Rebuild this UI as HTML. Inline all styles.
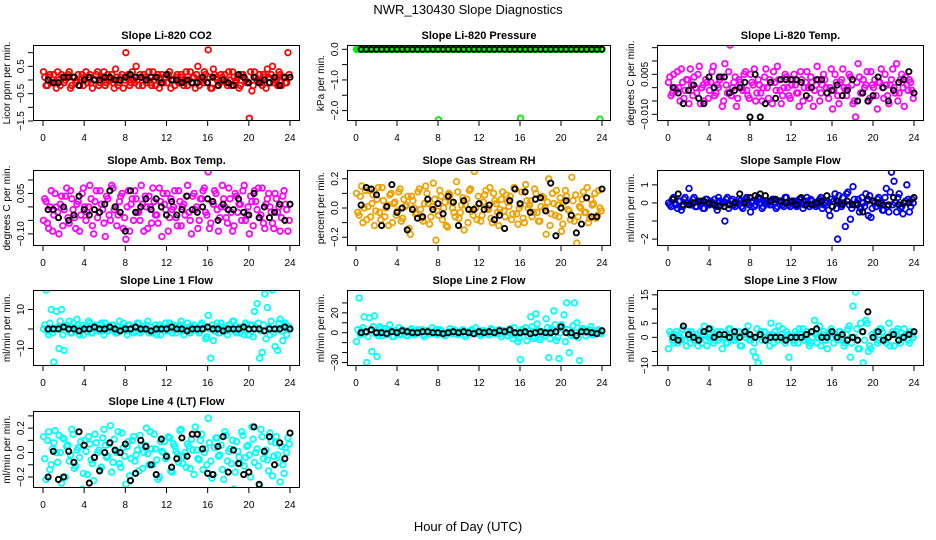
<!DOCTYPE html>
<html><head><meta charset="utf-8"><style>
html,body{margin:0;padding:0;background:#fff;}
svg{display:block;font-family:"Liberation Sans",sans-serif;}
</style></head><body>
<svg id="c" width="936" height="540" xmlns="http://www.w3.org/2000/svg">
<text x="468" y="14" text-anchor="middle" font-size="13">NWR_130430  Slope Diagnostics</text>
<text x="468" y="531" text-anchor="middle" font-size="13">Hour of Day (UTC)</text>
</svg>
<script>
const hourTicks=[0,4,8,12,16,20,24];
const co2Color=[0.3,-0.2,0.1,-0.1,0.2,-0.3,0.0,0.2,-0.1,0.1,0.3,-0.2,0.1,0.0,-0.2,0.2,0.1,-0.1,0.2,-0.3,0.0,0.3,-0.1,0.1,-0.2,0.2,0.0,-0.1,0.4,-0.2,0.1,-0.3,1.0,0.2,-0.1,0.0,0.5,-0.2,0.1,0.2,-0.1,0.3,-0.2,0.0,0.1,-0.3,0.2,0.1,-0.1,0.3,0.0,-0.2,0.2,-0.1,0.1,0.0,-0.2,0.3,0.1,-0.3,0.5,0.0,-0.1,0.2,1.1,-0.3,0.4,0.1,-0.2,0.2,0.0,-0.1,0.3,-0.2,0.1,0.0,-0.3,0.2,0.1,-0.1,-1.4,-0.4,0.3,0.0,0.2,-0.2,0.1,0.4,-0.1,0.5,0.0,-0.2,0.2,0.1,-0.1,1.0];
const co2ColorB=[0.1,-0.2,0.2,0.0,-0.1,0.3,-0.2,0.1,0.0,0.2,-0.3,0.1,-0.1,0.2,0.0,-0.2,0.3,0.1,-0.1,0.0,0.2,-0.2,0.1,0.3,-0.1,0.0,0.2,-0.3,0.1,-0.1,0.2,0.0,0.1,-0.2,0.3,-0.1,0.0,0.2,-0.2,0.1,0.0,-0.1,0.3,-0.2,0.2,0.0,-0.1,0.1,0.2,-0.3,0.0,0.1,-0.1,0.2,-0.2,0.3,0.0,-0.1,0.1,0.2,-0.2,0.0,0.3,-0.1,0.1,-0.3,0.2,0.0,-0.1,0.1,0.2,-0.2,0.0,0.3,-0.1,0.1,-0.2,0.2,0.0,-0.1,0.3,-0.2,0.1,0.0,-0.1,0.2,-0.3,0.1,0.2,-0.1,0.0,0.3,-0.2,0.1,-0.1,0.2];
const co2Black=[0.0,-0.1,-0.1,0.1,0.1,0.1,-0.2,0.0,0.1,0.0,0.0,0.1,0.1,0.0,0.0,0.1,0.2,0.1,0.1,0.0,0.1,0.1,-0.1,0.2,0.0,0.0,-0.1,0.0,-0.1,-0.1,0.1,-0.1,0.1,-0.2,0.0,-0.1,-0.2,0.2,0.1,-0.1,0.1,-0.1,0.0,-0.1,0.1,-0.2,0.1,0.1];
const presColor=[0,0,0,0,0,0,0,0,0,0,0,0,0,0,0,0,0,0,0,0,0,0,0,0,0,0,0,0,0,0,0,0,-2.3,0,0,0,0,0,0,0,0,0,0,0,0,0,0,0,0,0,0,0,0,0,0,0,0,0,0,0,0,0,0,0,-2.25,0,0,0,0,0,0,0,0,0,0,0,0,0,0,0,0,0,0,0,0,0,0,0,0,0,0,0,0,0,0,-2.28];
const presColorB=[0,0,0,0,0,0,0,0,0,0,0,0,0,0,0,0,0,0,0,0,0,0,0,0,0,0,0,0,0,0,0,0,0,0,0,0,0,0,0,0,0,0,0,0,0,0,0,0,0,0,0,0,0,0,0,0,0,0,0,0,0,0,0,0,0,0,0,0,0,0,0,0,0,0,0,0,0,0,0,0,0,0,0,0,0,0,0,0,0,0,0,0,0,0,0,0];
const presBlack=[0,0,0,0,0,0,0,0,0,0,0,0,0,0,0,0,0,0,0,0,0,0,0,0,0,0,0,0,0,0,0,0,0,0,0,0,0,0,0,0,0,0,0,0,0,0,0,0];
const tempColor=[0.002,-0.003,0.005,-0.001,0,0.007,-0.004,0.003,-0.006,0.001,0.004,-0.002,0.008,0,-0.005,0.002,-0.001,0.006,-0.003,0.001,0.003,-0.007,0.009,-0.002,0.016,0,0.004,-0.004,0.002,-0.001,0.006,-0.003,0.005,0.001,-0.005,0.003,-0.002,0,0.007,-0.004,0.002,0.006,-0.001,0.003,-0.006,0,0.004,-0.003,0.001,0.005,-0.002,-0.007,0.003,0,0.006,-0.004,0.002,-0.001,0.008,-0.005,0.001,0.003,-0.002,0,-0.008,0.005,-0.003,0.002,0.007,-0.001,0,0.004,-0.006,-0.011,0.009,-0.002,0.003,0.001,-0.005,0.006,0,-0.003,0.002,0.007,-0.004,0.001,-0.006,0.003,0,0.009,-0.002,0.005,-0.007,0.001,0.003,-0.001];
const tempColorB=[0.004,-0.002,0,0.006,-0.005,0.002,-0.001,0.003,0.007,-0.003,0,0.005,-0.006,0.001,0.003,-0.004,0.002,0.008,-0.002,0,0.004,-0.005,0.001,0.006,-0.003,0.002,-0.007,0.003,0,0.005,-0.001,-0.004,0.002,0.007,-0.002,0.001,-0.005,0.004,0,0.003,-0.006,0.002,0.008,-0.001,-0.003,0.005,0,-0.004,0.003,0.001,-0.002,0.006,-0.005,0.002,0,0.004,-0.007,0.001,0.003,-0.002,0.005,0,-0.004,0.007,-0.001,0.002,-0.006,0.003,0,-0.003,0.005,0.001,-0.005,0.002,0.004,-0.002,0,0.006,-0.004,0.001,0.003,-0.008,0.002,0,0.005,-0.003,0.001,0.007,-0.002,-0.005,0.003,0,0.004,-0.001,0.002,-0.004];
const tempBlack=[0,-0.002,-0.006,-0.001,0.001,-0.004,-0.006,0.004,0,0.004,0.004,-0.002,-0.001,0,0.002,-0.011,0.005,-0.011,-0.006,0.002,-0.004,0.003,0.003,0.003,0.003,0.002,-0.003,0,0.003,0.003,-0.002,-0.001,0.001,-0.003,-0.001,0.003,-0.005,-0.002,-0.005,-0.003,0.004,0,-0.005,-0.001,0.002,0.003,0.006,-0.002];
const ambColor=[-0.05,0.02,-0.08,0.06,-0.03,0,-0.1,0.04,-0.01,0.07,-0.06,0.03,-0.04,0.01,-0.09,0.05,0,-0.02,0.08,-0.07,0.02,-0.04,0.06,-0.01,-0.11,0.03,-0.05,0.07,0,-0.03,0.04,-0.08,-0.12,0.06,0.01,-0.05,0.03,-0.02,0.08,-0.09,0,0.04,-0.06,0.02,-0.03,0.07,-0.11,0.01,0.05,-0.04,-0.01,0.06,-0.07,0.02,0,-0.03,0.08,-0.05,0.04,-0.01,-0.08,0.03,0.06,-0.02,0.13,-0.06,0.01,0.05,-0.09,0,0.03,-0.04,0.07,-0.02,-0.07,0.04,0.01,-0.05,0.08,-0.03,-0.1,0.02,0.06,-0.01,-0.04,0.07,-0.08,0.03,0,-0.06,0.05,-0.02,-0.09,0.04,0.01,-0.09];
const ambColorB=[0.03,-0.06,0,-0.09,0.05,-0.02,0.01,-0.07,0.04,-0.04,0.06,-0.01,-0.08,0.02,-0.03,0.07,-0.05,0,0.03,-0.1,0.06,-0.02,0.01,-0.06,0.04,-0.03,0.08,-0.01,-0.07,0.02,0.05,-0.04,0,-0.09,0.03,0.06,-0.02,-0.05,0.01,0.04,-0.08,0,0.07,-0.03,-0.06,0.02,0.05,-0.01,-0.09,0.03,0,-0.04,0.06,-0.07,0.01,0.04,-0.02,-0.1,0.05,0,-0.05,0.03,0.07,-0.03,-0.08,0.02,0.06,-0.01,-0.04,0.08,0,-0.06,0.03,-0.09,0.05,-0.02,0.01,0.06,-0.05,0,0.04,-0.07,0.02,0.07,-0.03,-0.06,0.01,0.05,-0.02,-0.08,0.03,0,-0.04,0.06,-0.01,-0.05];
const ambBlack=[-0.01,-0.01,-0.04,0,-0.05,-0.03,0.04,-0.01,-0.03,-0.01,-0.02,0.01,0.06,0,-0.02,-0.09,0.06,-0.02,0,0.03,-0.01,0.03,0,-0.03,0.02,-0.03,-0.01,0.04,-0.01,-0.02,0,0.03,0.02,-0.05,0.01,-0.01,-0.01,0.03,-0.02,-0.03,0.05,-0.04,0,-0.04,-0.02,0.01,-0.05,0.01];
const rhColor=[0.1,-0.05,0.15,0,-0.08,0.12,0.03,-0.12,0.06,-0.03,0.14,-0.06,0.02,0.09,-0.1,0.04,-0.02,0.13,-0.07,0.01,0.08,-0.18,0.05,-0.04,0.11,-0.01,-0.09,0.15,0.03,-0.06,0.17,-0.22,-0.05,0.08,0,-0.12,0.1,0.04,-0.03,0.18,-0.07,0.02,-0.15,0.06,0.12,-0.02,0.25,-0.08,0.03,-0.05,0.09,0,0.14,-0.1,0.05,-0.03,-0.01,0.11,-0.06,0.04,0.08,-0.04,0.13,-0.11,0.02,-0.07,0.16,0,0.05,-0.03,0.1,-0.09,0.01,0.07,-0.18,0.2,-0.04,0.03,0.12,-0.06,-0.16,0.04,0.08,-0.02,0.21,-0.09,-0.24,0.01,0.06,-0.03,0.14,-0.07,0.02,0.1,-0.05,0];
const rhColorB=[-0.03,0.08,-0.1,0.12,0.01,-0.06,0.09,-0.02,0.14,-0.08,0.05,0,-0.12,0.1,0.03,-0.05,0.11,-0.09,0.06,0.02,-0.14,0.08,0,-0.04,0.13,-0.07,0.03,0.1,-0.11,0.01,0.06,-0.02,0.12,-0.08,0.04,-0.13,0.09,0,-0.06,0.11,-0.03,0.07,0.02,-0.1,0.13,-0.05,0,0.08,-0.09,0.04,0.12,-0.01,-0.07,0.1,0.03,-0.12,0.06,-0.02,0.09,0.01,-0.08,0.14,-0.04,0,0.11,-0.1,0.05,0.02,-0.06,0.13,-0.03,-0.09,0.08,0,0.04,-0.12,0.1,-0.05,0.02,0.07,-0.11,0.12,-0.01,-0.08,0.05,0.09,-0.06,0,0.11,-0.03,-0.1,0.06,0.03,-0.07,0.12,-0.02];
const rhBlack=[0.02,0.14,0.13,0.09,-0.12,0.01,0.16,-0.03,0,-0.15,-0.01,-0.07,-0.06,0.06,-0.01,0.03,-0.04,0.08,0.04,-0.12,0.05,-0.01,-0.01,0.03,-0.01,0.02,-0.08,-0.05,-0.14,0.05,0.13,0.03,0.11,-0.03,0.06,0.07,-0.02,0.17,-0.19,0,0.05,-0.05,-0.17,-0.11,0.07,-0.06,-0.06,0.13];
const sampColor=[0,-0.2,0.3,-0.1,0.1,-0.4,0.2,0,0.8,-0.1,0.3,-0.2,0,0.1,-0.3,0.2,-0.1,0,0.2,-0.4,0.1,0,-1,0.3,-0.1,0.2,-0.2,0,0.1,-0.3,0.2,0,-0.5,0.1,-0.1,0.3,0,-0.2,0.1,0,-0.1,0.2,-0.3,0.1,0,-0.2,0.3,-0.1,0,0.1,-0.2,0.2,0,-0.1,0.3,-0.2,0.1,0,-0.1,0.2,-0.3,0,0.1,-0.7,-0.2,0.5,-2,0,0.3,-1.3,0.6,-0.9,0.9,-0.1,0.2,-0.3,0,0.5,-0.7,-0.8,0.1,-0.2,0.3,0,-0.4,0.8,-0.5,1.7,1.2,-0.5,0.5,-0.2,0,1,-0.5,0.2];
const sampColorB=[-0.1,0.2,0,-0.3,0.1,-0.2,0.3,0,-0.1,0.2,-0.2,0.1,0,-0.3,0.2,-0.1,0.1,0,-0.2,0.3,-0.1,0,0.2,-0.3,0.1,-0.1,0,0.2,-0.2,0.1,0.3,-0.1,0,-0.2,0.1,0.2,-0.3,0,0.1,-0.1,0.2,0,-0.2,0.1,-0.1,0.3,0,-0.2,0.1,0,-0.1,0.2,-0.3,0.1,0,0.2,-0.1,-0.2,0.1,0.3,-0.1,0,-0.4,0.2,0.1,-0.3,0.4,-0.2,0,0.5,-0.1,-0.3,0.2,0,-0.5,0.3,-0.2,0.1,0.4,-0.3,0,0.2,-0.1,-0.4,0.3,-0.2,0.6,-0.1,0,0.3,-0.3,-0.6,0.1,0.2,-0.2,0];
const sampBlack=[0.2,0.5,-0.1,-0.1,0,0.1,0.1,0,-0.1,-0.2,-0.2,-0.1,0,0.5,0,0.3,0.4,0.5,0.4,0.1,0.2,0.1,0,0.1,-0.1,0.3,-0.1,-0.1,0,0.1,0.4,-0.2,0.1,-0.1,0.1,-0.1,-0.1,-0.5,0.2,0.1,0,-0.1,-0.1,0.3,-0.1,0,0,0.3];
const l1Color=[0,20,-3,10,-17,9,-10,10,-11,2,4,-2,1,5,-3,2,0,-1,3,-2,1,0,2,-1,3,-1,0,2,-2,1,0,3,-1,2,0,-2,1,3,-1,0,2,-2,1,0,-3,2,1,-1,0,3,-2,1,0,2,-1,0,3,-2,1,0,-1,2,0,-5,7,-15,-6,1,-2,3,0,-1,2,0,4,-2,1,0,-3,2,-3,2,9,13,-15,-12,18,11,-3,20,-9,-11,5,-6,3,0];
const l1ColorB=[2,-1,3,-2,0,1,4,-3,1,0,-2,3,-1,2,0,-3,1,4,-2,0,2,-1,3,-3,1,0,2,-1,-2,4,0,1,-3,2,0,-1,3,-2,1,0,4,-1,-2,2,0,-3,1,3,-1,0,2,-2,1,4,-3,0,1,-1,2,0,-2,3,1,-4,0,2,-1,3,-2,1,0,-3,2,4,-1,0,-2,1,3,-3,2,-4,0,3,-1,2,-5,1,4,-2,0,3,-1,2,-3,1];
const l1Black=[0,0,0,1,0,0,-1,0,0,1,0,0,1,0,-1,0,0,1,0,0,-1,0,0,0,1,0,0,-1,0,0,0,1,0,0,-1,0,0,0,1,0,0,0,-1,0,0,0,1,0];
const l2Color=[-9,35,2,16,-30,15,-19,17,-24,6,-3,4,0,8,-4,2,1,-2,3,0,-3,2,1,-1,3,0,-2,1,2,-1,0,3,-1,2,0,-2,1,0,3,-1,0,2,-2,1,0,3,-1,0,2,-1,1,0,-2,3,1,0,-1,2,0,-3,4,-6,0,-9,-27,3,5,-3,16,-6,19,2,-5,0,14,-25,4,22,-8,-26,8,18,30,-20,-3,30,10,-28,4,2,0,3,-2,1,2,0];
const l2ColorB=[3,-2,5,0,-4,2,6,-1,-3,4,0,-2,3,1,-4,2,5,-1,0,-3,2,4,-2,1,0,3,-4,2,-1,5,0,-2,3,1,-3,0,4,-1,2,-2,0,3,-4,1,2,-1,5,0,-3,2,1,-2,4,0,-1,3,-4,2,0,1,-2,5,-1,-6,3,0,-8,2,6,-4,9,-7,1,-3,5,-6,2,8,-5,0,4,-9,3,-2,7,0,-5,2,4,-3,1,6,-2,0,3,-1];
const l2Black=[0,1,3,0,0,-1,1,0,2,1,0,0,1,1,0,0,-1,0,1,0,1,0,-1,1,0,1,0,2,1,3,0,0,1,-1,0,1,0,0,1,6,0,0,-3,1,1,0,-1,2];
const l3Color=[-4,1,-2,2,0,-1,1,-3,0,2,-1,1,0,-2,4,-3,1,0,-1,2,0,-4,1,-2,3,0,-1,2,-3,1,0,4,-1,-5,-7,-9,2,0,-1,1,5,-2,0,4,1,-1,2,-7,0,-2,1,3,0,-1,2,-3,0,6,-2,4,1,-1,-4,2,0,1,-1,2,0,-2,3,-7,11,16,-4,5,-9,6,-5,-4,-11,2,-1,3,0,-2,5,1,-3,2,-1,0,3,1,-2,1];
const l3ColorB=[2,-1,1,-2,0,3,-1,2,-2,1,0,-3,2,1,-1,0,3,-2,1,-1,2,0,-2,3,1,-1,0,2,-3,1,2,-1,0,-2,3,1,-1,2,0,-3,1,2,-1,0,3,-2,1,0,-1,2,-2,1,3,0,-1,-2,2,1,0,-3,2,-1,1,3,-2,0,2,-1,-3,1,4,-2,0,3,-4,2,-1,5,-3,1,0,-2,3,2,-1,0,-3,2,1,3,-2,0,1,-1,2,0];
const l3Black=[0,-1,4,1,0,-1,2,3,0,1,1,0,2,0,2,1,0,1,-1,0,0,0,-1,0,0,0,1,2,3,0,0,2,0,1,-1,0,-1,2,9,0,2,-1,0,1,-1,0,1,2];
const l4Color=[0.13,-0.22,0.17,-0.1,0.08,0,0.14,-0.25,0.11,0.05,-0.07,0.19,-0.13,0.02,-0.04,-0.3,0.1,-0.18,0.07,-0.09,0.15,0,-0.14,0.12,0.06,-0.03,0.22,-0.08,0.01,0.17,-0.12,0.04,-0.26,0.09,-0.05,0.13,-0.02,-0.15,0.06,0,0.2,-0.1,0.03,0.15,-0.06,-0.2,0.01,0.09,-0.04,0.12,-0.16,0.05,-0.01,0.18,-0.09,0,0.07,-0.13,0.02,0.21,-0.05,0.1,-0.14,0.03,0.28,-0.07,-0.18,0.12,-0.03,0.06,-0.22,0.14,0.01,-0.09,-0.3,0.09,-0.04,0.17,-0.11,0.05,-0.02,0.21,-0.08,0.03,-0.27,0.13,0,-0.06,0.16,-0.19,0.08,-0.02,-0.24,-0.1,0.04,0.12];
const l4ColorB=[-0.05,0.1,-0.14,0.03,0.18,-0.08,0,0.12,-0.2,0.06,-0.02,0.15,-0.11,0.04,0.09,-0.17,0.01,0.13,-0.06,-0.23,0.08,0.02,-0.12,0.19,-0.04,0.07,-0.16,0.11,0,-0.09,0.16,-0.03,0.05,-0.19,0.1,-0.07,0.02,0.14,-0.13,0.06,-0.01,0.17,-0.1,0.03,-0.22,0.09,0,-0.05,0.13,-0.15,0.07,0.01,-0.08,0.19,-0.03,-0.12,0.05,0.11,-0.18,0.02,-0.06,0.15,0,-0.1,0.08,-0.21,0.04,0.12,-0.02,-0.14,0.17,-0.07,0.03,0.1,-0.16,0.01,-0.09,0.14,-0.04,0.06,-0.2,0.11,0,-0.11,0.19,-0.05,0.02,-0.15,0.09,-0.03,0.13,-0.08,0.05,-0.17,0,0.07];
const l4Black=[-0.2,0.01,-0.22,-0.2,0.01,-0.08,0.17,0.06,-0.25,-0.04,-0.15,0,0.08,0.02,0,0.07,-0.23,-0.17,0.1,0.05,-0.1,-0.18,0.11,-0.03,-0.12,-0.05,0.12,-0.03,0.15,0.15,0.03,-0.17,-0.18,0.05,0.13,-0.16,0.02,-0.09,-0.18,-0.16,0.21,-0.26,0.01,0.13,-0.1,0.08,-0.05,0.16];

const cols=[{l:33,r:300,x0:43,x1:290},{l:347,r:611,x0:356,x1:602},{l:657,r:924,x0:668,x1:914}];
const rows=[{t:45,b:121},{t:170,b:246},{t:290,b:366},{t:411,b:488}];
const panels=[
 {name:'co2',title:'Slope Li-820 CO2',yl:'Licor ppm per min.',c:0,r:0,ymin:-1.5,ymax:1.28,ticks:[-1.5,-1,-0.5,0,0.5,1],labels:{'-1.5':'\u22121.5','-0.5':'\u22120.5','0.5':'0.5'},col:'#ff0000',data:co2Color,dataB:co2ColorB,black:co2Black},
 {name:'pressure',title:'Slope Li-820 Pressure',yl:'kPa per min.',c:1,r:0,ymin:-2.34,ymax:0.14,ticks:[-2,-1.5,-1,-0.5,0],labels:{'-2':'\u22122.0','-1':'\u22121.0','0':'0.0'},col:'#00ee00',data:presColor,dataB:presColorB,black:presBlack},
 {name:'temp',title:'Slope Li-820 Temp.',yl:'degrees C per min.',c:2,r:0,ymin:-0.0125,ymax:0.016,ticks:[-0.01,-0.005,0,0.005,0.01,0.015],labels:{'-0.01':'\u22120.010','0.005':'0.005'},col:'#ff00ff',data:tempColor,dataB:tempColorB,black:tempBlack},
 {name:'amb-temp',title:'Slope Amb. Box Temp.',yl:'degrees C per min.',c:0,r:1,ymin:-0.145,ymax:0.137,ticks:[-0.1,-0.05,0,0.05,0.1],labels:{'-0.1':'\u22120.10','0.05':'0.05'},col:'#ff00ff',data:ambColor,dataB:ambColorB,black:ambBlack},
 {name:'gas-rh',title:'Slope Gas Stream RH',yl:'percent per min.',c:1,r:1,ymin:-0.26,ymax:0.26,ticks:[-0.2,-0.1,0,0.1,0.2],labels:{'-0.2':'\u22120.2','0':'0.0','0.2':'0.2'},col:'#f0a000',data:rhColor,dataB:rhColorB,black:rhBlack},
 {name:'sample-flow',title:'Slope Sample Flow',yl:'ml/min per min.',c:2,r:1,ymin:-2.38,ymax:1.82,ticks:[-2,-1,0,1],labels:{'-2':'\u22122','0':'0','1':'1'},col:'#0000ee',data:sampColor,dataB:sampColorB,black:sampBlack},
 {name:'line1-flow',title:'Slope Line 1 Flow',yl:'ml/min per min.',c:0,r:2,ymin:-19,ymax:20,ticks:[-10,0,10],labels:{'-10':'\u221210','10':'10'},col:'#00ffff',data:l1Color,dataB:l1ColorB,black:l1Black},
 {name:'line2-flow',title:'Slope Line 2 Flow',yl:'ml/min per min.',c:1,r:2,ymin:-33.5,ymax:43,ticks:[-30,-20,-10,0,10,20,30],labels:{'-30':'\u221230','0':'0','20':'20'},col:'#00ffff',data:l2Color,dataB:l2ColorB,black:l2Black},
 {name:'line3-flow',title:'Slope Line 3 Flow',yl:'ml/min per min.',c:2,r:2,ymin:-10.1,ymax:16.7,ticks:[-10,-5,0,5,10,15],labels:{'-10':'\u221210','0':'0','5':'5','15':'15'},col:'#00ffff',data:l3Color,dataB:l3ColorB,black:l3Black},
 {name:'line4-flow',title:'Slope Line 4 (LT) Flow',yl:'ml/min per min.',c:0,r:3,ymin:-0.29,ymax:0.34,ticks:[-0.3,-0.2,-0.1,0,0.1,0.2,0.3],labels:{'-0.2':'\u22120.2','0':'0.0','0.2':'0.2'},col:'#00ffff',data:l4Color,dataB:l4ColorB,black:l4Black}
];
const NS='http://www.w3.org/2000/svg';
const svg=document.getElementById('c');
function mk(tag,attrs,parent){const e=document.createElementNS(NS,tag);for(const k in attrs)e.setAttribute(k,attrs[k]);(parent||svg).appendChild(e);return e;}
panels.forEach(p=>{
 const C=cols[p.c],R=rows[p.r];
 const g=mk('g',{});
 
 
 const xs=h=>C.x0+(C.x1-C.x0)*h/24;
 const ys=v=>R.b-(v-p.ymin)/(p.ymax-p.ymin)*(R.b-R.t);
 const clip='clip-'+p.name;
 const cp=mk('clipPath',{id:clip},g);
 mk('rect',{x:C.l,y:R.t,width:C.r-C.l,height:R.b-R.t},cp);
 const pts=mk('g',{'clip-path':'url(#'+clip+')'},g);
 
 
 [[p.data,0.05],[p.dataB,0.175]].forEach(([arr,off])=>{
  const n=arr.length;
  arr.forEach((v,i)=>{
   const c=mk('circle',{cx:xs(i*24/n+off),cy:ys(v),r:2.8,fill:'none',stroke:p.col,'stroke-width':1.8},pts);
   
   
  });
 });
 const m=p.black.length;
 p.black.forEach((v,i)=>{
  const c=mk('circle',{cx:xs(i*24/m+0.5),cy:ys(v),r:2.6,fill:'none',stroke:'#000','stroke-width':1.9},pts);
  
  
 });
 const box=mk('rect',{x:C.l+0.5,y:R.t+0.5,width:C.r-C.l-1,height:R.b-R.t-1,fill:'none',stroke:'#000','stroke-width':1},g);
 
 
 const t=mk('text',{x:(C.l+C.r)/2,y:R.t-6,'text-anchor':'middle','font-size':11,'font-weight':'bold'},g);
 t.textContent=p.title;
 
 
 hourTicks.forEach(h=>{
  const x=xs(h);
  mk('line',{x1:x,x2:x,y1:R.b,y2:R.b+5,stroke:'#000'},g);
  const tl=mk('text',{x:x,y:R.b+20,'text-anchor':'middle','font-size':10},g);
  tl.textContent=h;
  
  
 });
 p.ticks.forEach(v=>{
  const y=ys(v);
  if(y<R.t-1||y>R.b+1)return;
  mk('line',{x1:C.l-5,x2:C.l,y1:y,y2:y,stroke:'#000'},g);
  const lab=p.labels[String(v)];
  if(lab!==undefined){
   const tl=mk('text',{x:C.l-9,y:y,'text-anchor':'middle','font-size':10,transform:'rotate(-90 '+(C.l-9)+' '+y+')'},g);
   tl.textContent=lab;
   
   
  }
 });
 const yc=(R.t+R.b)/2, yx=C.l-23;
 const yt=mk('text',{x:yx,y:yc,'text-anchor':'middle','font-size':10,transform:'rotate(-90 '+yx+' '+yc+')'},g);
 yt.textContent=p.yl;
 
 
});
</script>
</body></html>
